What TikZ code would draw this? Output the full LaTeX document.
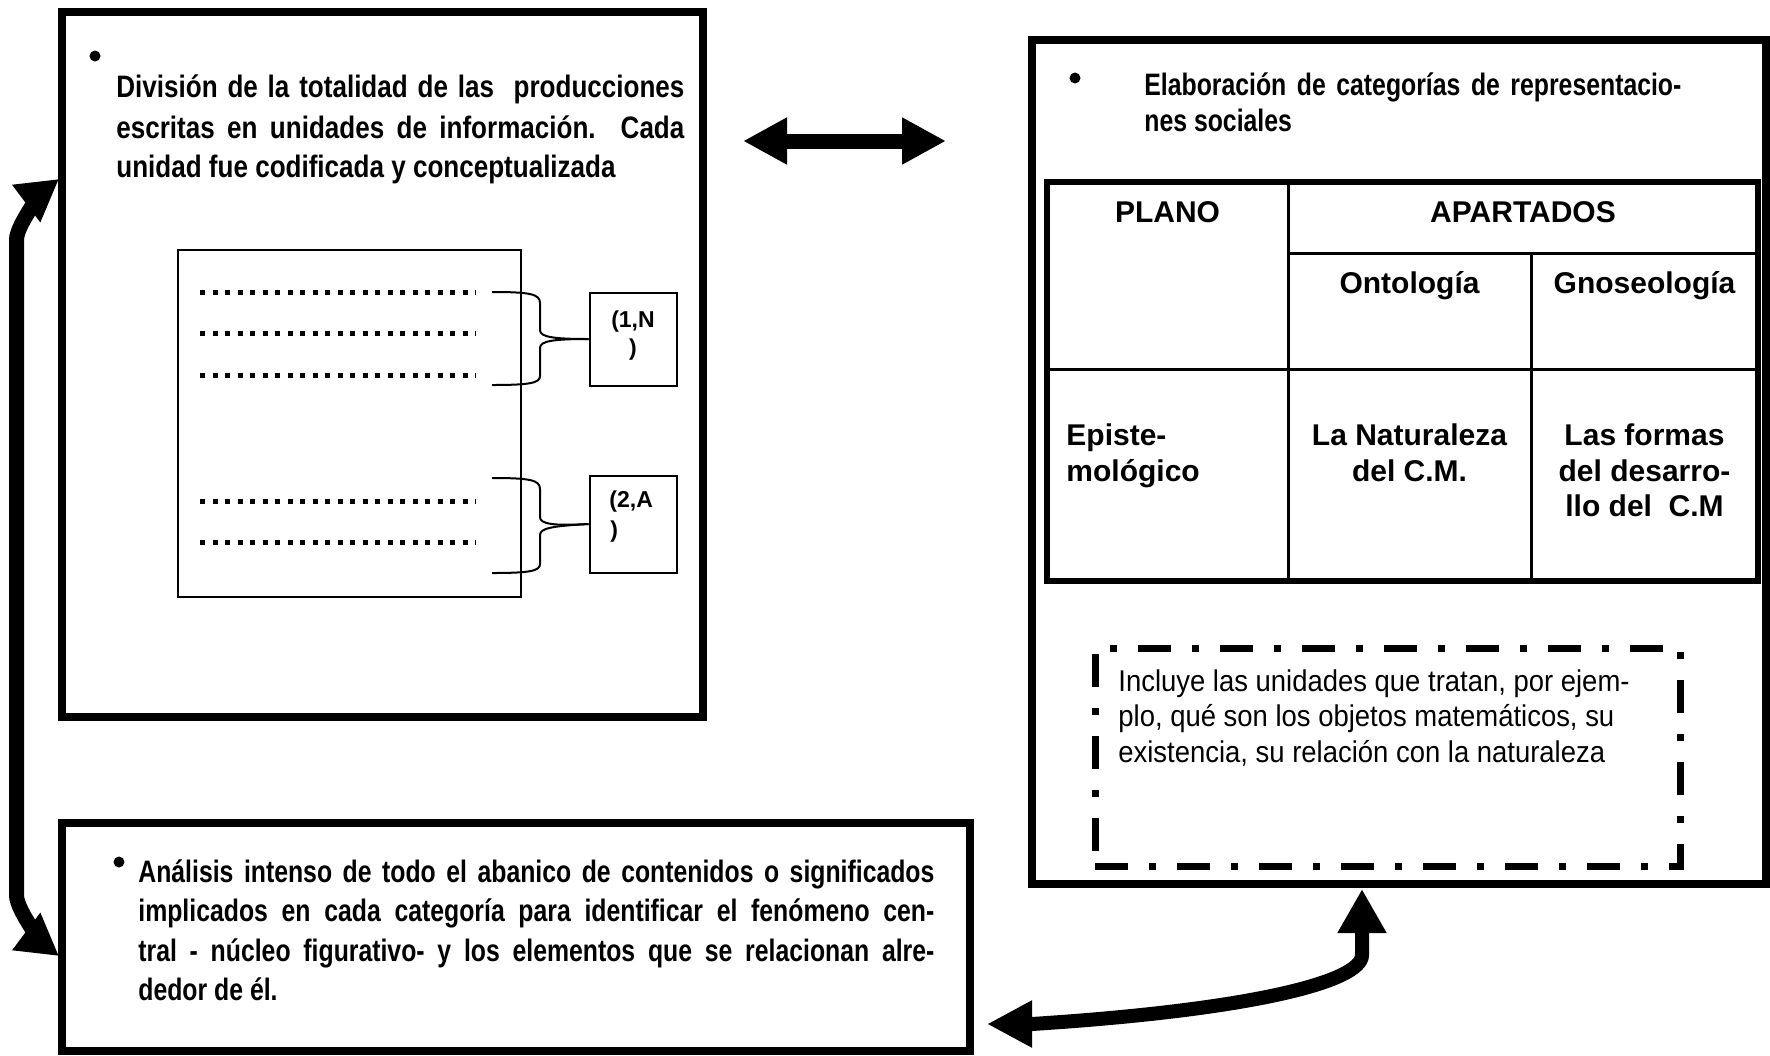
\documentclass[tikz,border=0pt]{standalone}
\usepackage{fontspec}
\usetikzlibrary{arrows.meta}
\newfontfamily\condf{Liberation Sans}[FakeStretch=0.8]
\newfontfamily\condA{Liberation Sans}[FakeStretch=0.84]
\newfontfamily\tabf{Liberation Sans}
\newfontfamily\lightf{Liberation Sans}[FakeStretch=0.915]
\begin{document}
\begin{tikzpicture}[x=0.5pt,y=-0.5pt,
  box/.style={draw, line width=4pt, rectangle, inner sep=0pt},
  thinbox/.style={draw, line width=1pt, rectangle, inner sep=0pt},
  bt/.style={font=\condf\bfseries\fontsize{15.5pt}{20pt}\selectfont, inner sep=0pt, anchor=base west},
  bta/.style={bt, font=\condA\bfseries\fontsize{15.5pt}{20pt}\selectfont},
  tt/.style={font=\tabf\bfseries\fontsize{15pt}{18pt}\selectfont, inner sep=0pt, anchor=base},
  ttl/.style={tt, anchor=base west},
  lt/.style={font=\lightf\fontsize{15pt}{18pt}\selectfont, inner sep=0pt, anchor=base west},
  st/.style={font=\tabf\bfseries\fontsize{11.5pt}{14pt}\selectfont, inner sep=0pt, anchor=base},
  stl/.style={st, anchor=base west},
  bul/.style={fill, circle, inner sep=0pt, minimum size=5.5pt},
  dotrow/.style={line width=2.5pt, dash pattern=on 2.5pt off 3.75pt},
  brace/.style={line width=1pt},
  tabouter/.style={line width=3pt},
  tabinner/.style={line width=1.5pt},
  dashdotbox/.style={draw, line width=3.5pt, dash pattern=on 16.5pt off 10.5pt on 3.5pt off 10.5pt, rectangle, inner sep=0pt},
  fat/.style={line width=7.5pt, {Triangle[length=22pt,width=22pt]}-{Triangle[length=22pt,width=22pt]}},
  fatb/.style={line width=7pt, {Triangle[length=22pt,width=23pt]}-{Triangle[length=22.5pt,width=22pt]}},
]
\useasboundingbox (0,0) rectangle (1770,1055);

% main boxes
\node[box, minimum width=320.5pt, minimum height=352.5pt] (A) at (382.5,364.5) {};
\node[box, minimum width=367pt, minimum height=422pt] (B) at (1399,462) {};
\node[box, minimum width=454pt, minimum height=114pt] (C) at (516,937) {};

% box A text
\node[bul] (bA) at (95,56) {};
\node[bta] (a1) at (116,97.5) {\makebox[284pt][s]{División de la totalidad de las\ \ producciones}};
\node[bta] (a2) at (116,138) {\makebox[284pt][s]{escritas en unidades de información. Cada}};
\node[bta] (a3) at (116,177) {unidad fue codificada y conceptualizada};

% inner box with dotted rows
\node[thinbox, minimum width=171.5pt, minimum height=173.5pt] (inner) at (349.5,423.5) {};
\draw[dotrow] (200,292) -- (476,292);
\draw[dotrow] (200,333) -- (476,333);
\draw[dotrow] (200,375) -- (476,375);
\draw[dotrow] (200,501) -- (476,501);
\draw[dotrow] (200,542) -- (476,542);

% small boxes
\node[thinbox, minimum width=43.5pt, minimum height=46.5pt] (s1) at (633,339) {};
\node[thinbox, minimum width=43.5pt, minimum height=48.5pt] (s2) at (633,524) {};
\node[st] (s1a) at (633,327) {(1,N};
\node[st] (s1b) at (633,355) {)};
\node[stl] (s2a) at (609,507) {(2,A};
\node[stl] (s2b) at (610,537) {)};

% braces
\draw[brace] (492,292) .. controls (530,292) and (540,294) .. (540,303) -- (540,330) .. controls (540,337) and (553,339) .. (s1.west);
\draw[brace] (s1.west) .. controls (553,339) and (540,341) .. (540,348) -- (540,376) .. controls (540,383) and (530,385) .. (492,385);
\draw[brace] (492,478) .. controls (530,478) and (540,480) .. (540,489) -- (540,517) .. controls (540,524) and (553,526) .. (s2.west);
\draw[brace] (s2.west) .. controls (553,526) and (540,528) .. (540,535) -- (540,564) .. controls (540,571) and (530,573) .. (492,573);

% box B text
\node[bul] (bB) at (1075,78) {};
\node[bt] (b1) at (1144,95.5) {\makebox[268.5pt][s]{Elaboración de categorías de representacio-}};
\node[bt] (b2) at (1144,131) {nes sociales};

% table
\draw[tabouter] (1047,182) rectangle (1758,581);
\draw[tabinner] (1288,182) -- (1288,581);
\draw[tabinner] (1531,253) -- (1531,581);
\draw[tabinner] (1288,253) -- (1758,253);
\draw[tabinner] (1047,369) -- (1758,369);
\node[tt] (plano) at (1167.5,222) {PLANO};
\node[tt] (apart) at (1523,222) {APARTADOS};
\node[tt] (onto) at (1409.5,293) {Ontología};
\node[tt] (gnos) at (1644.5,293) {Gnoseología};
\node[ttl] (ep1) at (1066,445) {Episte-};
\node[ttl] (ep2) at (1066,481) {mológico};
\node[tt] (na1) at (1409.5,445) {La Naturaleza};
\node[tt] (na2) at (1409.5,481) {del C.M.};
\node[tt] (fo1) at (1644.5,445) {Las formas};
\node[tt] (fo2) at (1644.5,481) {del desarro-};
\node[tt] (fo3) at (1644.5,516) {llo del\ \ C.M};

% dash-dot box
\node[dashdotbox, minimum width=292.5pt, minimum height=109pt] (dbox) at (1387.5,757) {};
\node[lt] (l1) at (1118,691) {Incluye las unidades que tratan, por ejem-};
\node[lt] (l2) at (1118,726.5) {plo, qué son los objetos matemáticos, su};
\node[lt] (l3) at (1118,762) {existencia, su relación con la naturaleza};

% box C text
\node[bul] (bC) at (119,862) {};
\node[bt] (c1) at (138,882) {\makebox[398pt][s]{Análisis intenso de todo el abanico de contenidos o significados}};
\node[bt] (c2) at (138,921.5) {\makebox[398pt][s]{implicados en cada categoría para identificar el fenómeno cen-}};
\node[bt] (c3) at (138,961) {\makebox[398pt][s]{tral - núcleo figurativo- y los elementos que se relacionan alre-}};
\node[bt] (c4) at (138,1000.5) {dedor de él.};

% arrows
\coordinate (dl) at (743,141);
\coordinate (dr) at (946,141);
\draw[fat] (dl) -- (dr);

\coordinate (lt) at (59,179);
\coordinate (lb) at (59,956);
\draw[line width=7.5pt, {Triangle[length=20.5pt,width=22pt]}-{Triangle[length=20.5pt,width=22pt]}]
  (lt) .. controls (51,185) and (16.5,222) .. (16.5,240) -- (16.5,895) .. controls (16.5,913) and (51,950) .. (lb);

\coordinate (bu) at (1362,889);
\coordinate (bl) at (987,1024);
\draw[fatb] (bu) -- (1362,955) .. controls (1362,982) and (1250,1010) .. (1032,1024) -- (bl);
\end{tikzpicture}
\end{document}
